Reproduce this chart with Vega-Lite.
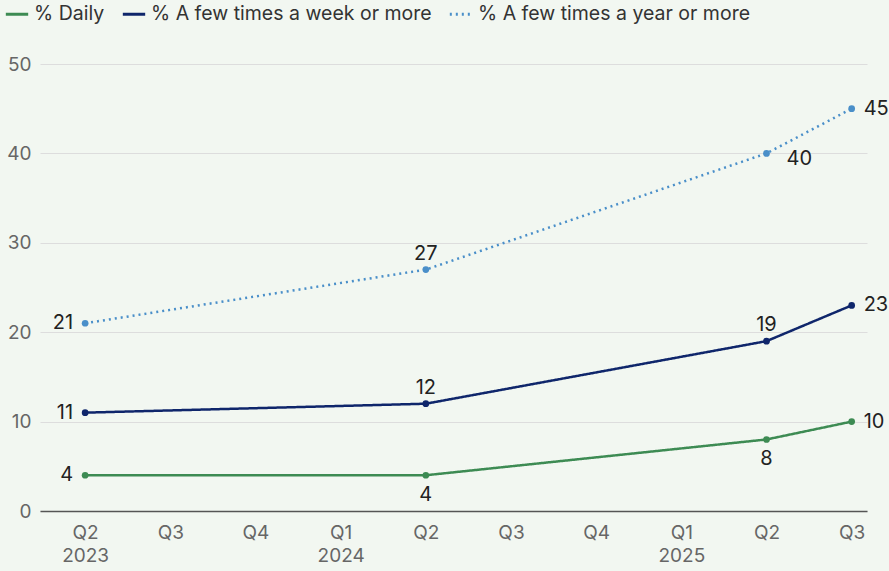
{
  "$schema": "https://vega.github.io/schema/vega-lite/v6.json",
  "width": 827,
  "height": 447,
  "autosize": "none",
  "padding": {"left": 40, "top": 64, "right": 22, "bottom": 60},
  "background": "#f2f7f1",
  "config": {
    "view": {"stroke": null},
    "font": "Inter",
    "axis": {"labelFont": "Inter", "labelColor": "#666666", "labelFontSize": 19},
    "legend": {"labelFont": "Inter"}
  },
  "data": {
    "values": [
      {"series": "% Daily", "i": 0, "value": 4},
      {"series": "% Daily", "i": 4, "value": 4},
      {"series": "% Daily", "i": 8, "value": 8},
      {"series": "% Daily", "i": 9, "value": 10},
      {"series": "% A few times a week or more", "i": 0, "value": 11},
      {"series": "% A few times a week or more", "i": 4, "value": 12},
      {"series": "% A few times a week or more", "i": 8, "value": 19},
      {"series": "% A few times a week or more", "i": 9, "value": 23},
      {"series": "% A few times a year or more", "i": 0, "value": 21},
      {"series": "% A few times a year or more", "i": 4, "value": 27},
      {"series": "% A few times a year or more", "i": 8, "value": 40},
      {"series": "% A few times a year or more", "i": 9, "value": 45}
    ]
  },
  "encoding": {
    "x": {
      "field": "i",
      "type": "quantitative",
      "scale": {"domain": [-0.53, 9.18], "nice": false, "zero": false},
      "axis": {
        "title": null,
        "values": [0, 1, 2, 3, 4, 5, 6, 7, 8, 9],
        "labelExpr": "[['Q2','2023'],'Q3','Q4',['Q1','2024'],'Q2','Q3','Q4',['Q1','2025'],'Q2','Q3'][datum.value]",
        "grid": false,
        "ticks": false,
        "domain": true,
        "domainColor": "#555555",
        "domainWidth": 1.5,
        "labelPadding": 12,
        "labelLineHeight": 23,
        "labelBaseline": "top",
        "labelFlush": false
      }
    },
    "y": {
      "field": "value",
      "type": "quantitative",
      "scale": {"domain": [0, 50], "nice": false},
      "axis": {
        "title": null,
        "values": [0, 10, 20, 30, 40, 50],
        "domain": false,
        "ticks": false,
        "grid": true,
        "gridColor": "#dddddd",
        "gridWidth": 1,
        "labelPadding": 9
      }
    },
    "color": {
      "field": "series",
      "type": "nominal",
      "sort": ["% Daily", "% A few times a week or more", "% A few times a year or more"],
      "scale": {
        "domain": ["% Daily", "% A few times a week or more", "% A few times a year or more"],
        "range": ["#3d8b53", "#0f266b", "#4a8fc9"]
      },
      "legend": {
        "title": null,
        "orient": "none",
        "legendX": -36,
        "legendY": -63,
        "direction": "horizontal",
        "symbolType": "stroke",
        "symbolSize": 500,
        "symbolStrokeWidth": 3,
        "labelFontSize": 19.5,
        "labelLimit": 0,
        "labelColor": "#333333",
        "columnPadding": 11,
        "labelOffset": 4,
        "symbolDash": {"expr": "datum.label == '% A few times a year or more' ? [2,4] : []"}
      }
    }
  },
  "layer": [
    {
      "mark": {"type": "line", "interpolate": "linear", "strokeWidth": 2.5},
      "encoding": {
        "strokeDash": {
          "field": "series",
          "type": "nominal",
          "scale": {
            "domain": ["% Daily", "% A few times a week or more", "% A few times a year or more"],
            "range": [[1, 0], [1, 0], [2, 4]]
          },
          "legend": null
        }
      }
    },
    {
      "mark": {"type": "point", "filled": true, "opacity": 1, "size": 45}
    },
    {
      "transform": [{"filter": "datum.i == 0"}],
      "mark": {"type": "text", "align": "right", "baseline": "middle", "dx": -12, "fontSize": 20},
      "encoding": {"text": {"field": "value"}, "color": {"value": "#222222"}}
    },
    {
      "transform": [{"filter": "datum.i == 9"}],
      "mark": {"type": "text", "align": "left", "baseline": "middle", "dx": 12, "fontSize": 20},
      "encoding": {"text": {"field": "value"}, "color": {"value": "#222222"}}
    },
    {
      "transform": [{"filter": "(datum.i == 4 && datum.series != '% Daily') || (datum.i == 8 && datum.series == '% A few times a week or more')"}],
      "mark": {"type": "text", "align": "center", "baseline": "bottom", "dy": -6, "fontSize": 20},
      "encoding": {"text": {"field": "value"}, "color": {"value": "#222222"}}
    },
    {
      "transform": [{"filter": "(datum.i == 4 || datum.i == 8) && datum.series == '% Daily'"}],
      "mark": {"type": "text", "align": "center", "baseline": "top", "dy": 10, "fontSize": 20},
      "encoding": {"text": {"field": "value"}, "color": {"value": "#222222"}}
    },
    {
      "transform": [{"filter": "datum.i == 8 && datum.series == '% A few times a year or more'"}],
      "mark": {"type": "text", "align": "left", "baseline": "middle", "dx": 20, "dy": 6, "fontSize": 20},
      "encoding": {"text": {"field": "value"}, "color": {"value": "#222222"}}
    }
  ]
}
